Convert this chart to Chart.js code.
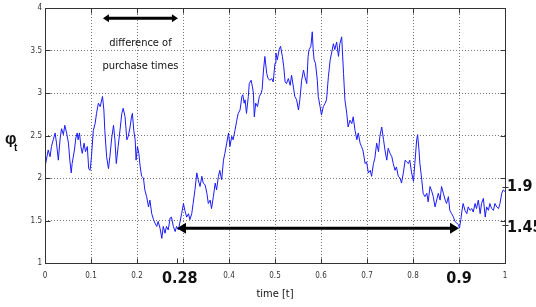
<!DOCTYPE html>
<html><head><meta charset="utf-8">
<script src="https://cdn.jsdelivr.net/npm/chart.js@4.4.0/dist/chart.umd.min.js"></script>
<style>html,body{margin:0;padding:0;background:#fff;overflow:hidden}</style>
</head><body>
<canvas id="c" width="536" height="307" style="display:block;width:536px;height:307px"></canvas>
<script>
// ---- data ----
const time = [
 0,0.007,0.011,0.014,0.018,0.022,0.025,0.029,0.033,0.036,0.040,0.043,0.047,0.051,0.054,0.057,0.059,0.064,0.067,0.070,
 0.072,0.075,0.078,0.081,0.085,0.088,0.092,0.095,0.098,0.101,0.105,0.109,0.112,0.116,0.120,0.125,0.128,0.130,0.134,0.138,
 0.141,0.145,0.149,0.152,0.155,0.159,0.163,0.167,0.170,0.174,
 0.178,0.181,0.185,0.188,0.190,0.193,0.196,0.198,0.201,0.204,0.207,0.210,0.214,0.217,0.221,0.225,0.228,0.232,0.236,0.239,
 0.243,0.246,0.250,0.254,0.257,0.261,0.264,0.268,0.272,0.275,0.279,0.283,0.286,0.290,0.293,0.297,0.301,0.304,0.308,0.312,
 0.315,0.319,0.322,0.326,0.330,0.333,0.337,0.341,0.344,
 0.348,0.352,0.355,0.359,0.362,0.366,0.370,0.373,0.377,0.380,0.384,0.388,0.391,0.395,0.399,0.402,0.406,0.409,0.413,0.417,
 0.420,0.424,0.428,0.430,0.433,0.435,0.438,0.442,0.444,0.448,0.451,0.453,0.455,0.458,0.462,0.466,0.470,0.472,0.475,0.478,
 0.482,0.485,0.489,0.493,0.496,0.500,0.502,0.505,0.509,0.512,0.516,0.519,
 0.522,0.525,0.529,0.533,0.536,0.540,0.543,0.547,0.551,0.554,0.558,0.562,0.565,0.569,0.572,0.574,0.578,0.581,0.583,0.585,
 0.588,0.592,0.594,0.598,0.601,0.605,0.609,0.612,0.616,0.620,0.623,0.627,0.630,0.634,0.638,0.641,0.645,0.649,0.652,0.656,
 0.659,0.663,0.667,0.670,0.674,0.678,0.681,0.685,0.688,0.691,
 0.696,0.699,0.703,0.707,0.710,0.714,0.717,0.721,0.725,0.728,0.732,0.736,0.739,0.743,0.746,0.750,0.754,0.757,0.761,0.764,
 0.768,0.772,0.775,0.779,0.783,0.786,0.790,0.793,0.797,0.801,0.804,0.808,0.810,0.813,0.815,0.819,0.822,0.826,0.830,0.833,
 0.837,0.841,0.844,0.848,
 0.855,0.859,0.862,0.866,0.870,0.873,0.877,0.880,0.884,0.888,0.891,0.895,0.899,0.901,0.904,0.906,0.909,0.913,0.917,0.920,
 0.924,0.928,0.931,0.935,0.938,0.942,0.946,0.949,0.953,0.957,0.960,0.964,0.967,0.971,0.975,0.978,0.982,0.986,0.989,0.993,
 0.996,1.000
];
const phi = [
 2.13,2.33,2.25,2.37,2.45,2.53,2.41,2.21,2.47,2.58,2.51,2.62,2.53,2.41,2.21,2.06,2.17,2.33,2.47,2.53,
 2.45,2.53,2.37,2.29,2.41,2.31,2.37,2.11,2.09,2.25,2.56,2.64,2.76,2.88,2.84,2.96,2.80,2.56,2.25,2.11,
 2.25,2.47,2.62,2.45,2.17,2.37,2.56,2.76,2.82,2.72,
 2.45,2.49,2.60,2.72,2.76,2.56,2.45,2.21,2.37,2.29,2.13,2.02,2.00,1.86,1.78,1.66,1.74,1.58,1.51,1.47,
 1.43,1.49,1.41,1.29,1.43,1.35,1.43,1.39,1.53,1.54,1.43,1.37,1.43,1.39,1.47,1.58,1.70,1.62,1.54,1.58,
 1.51,1.58,1.70,1.86,2.06,1.98,1.90,2.02,1.94,
 1.92,1.82,1.70,1.74,1.64,1.78,1.94,1.86,2.02,2.09,1.98,2.21,2.29,2.41,2.53,2.37,2.49,2.45,2.56,2.68,
 2.76,2.80,2.96,2.98,2.88,2.92,2.76,2.96,3.11,3.15,3.07,3.00,2.72,2.88,2.84,2.96,3.00,3.04,3.27,3.43,
 3.23,3.17,3.15,3.17,3.13,3.35,3.47,3.39,3.51,3.55,3.43,3.31,
 3.13,3.11,3.17,3.09,3.21,3.07,2.96,2.92,2.80,2.92,3.15,3.27,3.19,3.11,3.43,3.51,3.55,3.72,3.51,3.39,
 3.35,3.15,2.96,2.84,2.74,2.84,2.88,2.92,3.19,3.39,3.47,3.58,3.51,3.60,3.43,3.58,3.66,3.23,2.92,2.76,
 2.60,2.68,2.64,2.72,2.56,2.45,2.53,2.41,2.37,2.33,
 2.17,2.19,2.06,2.09,2.02,2.17,2.23,2.41,2.31,2.49,2.60,2.45,2.33,2.21,2.35,2.29,2.25,2.17,2.09,2.13,
 2.02,2.00,1.94,2.06,2.21,2.19,2.17,2.21,2.06,1.96,2.17,2.45,2.51,2.33,2.17,1.98,1.82,1.78,1.82,1.72,
 1.90,1.84,1.78,1.66,
 1.82,1.74,1.90,1.82,1.74,1.70,1.78,1.62,1.58,1.54,1.49,1.47,1.45,1.41,1.51,1.60,1.70,1.62,1.58,1.66,
 1.62,1.64,1.60,1.70,1.64,1.74,1.58,1.70,1.76,1.54,1.66,1.62,1.70,1.64,1.62,1.70,1.66,1.64,1.70,1.82,
 1.86,1.84
];
const xTicks = [0,0.1,0.2,0.3,0.4,0.5,0.6,0.7,0.8,0.9,1];
const xTickLabels = ['0','0.1','0.2','','0.4','0.5','0.6','0.7','0.8','','1'];
const yTicks = [1,1.5,2,2.5,3,3.5,4];
const yTickLabels = ['1','1.5','2','2.5','3','3.5','4'];
const markTimeLabels = ['0.28','0.9'];
const markLevelLabels = ['1.9','1.45'];
const markLevels = [1.9, 1.45];
const spanArrow = [0.287, 0.9, 1.41];     // from t, to t, level
const diffArrow = [0.126, 0.289, 3.88];   // from t, to t, level
const diffText = ['difference of', 'purchase times'];
const xTitle = 'time [t]';

// ---- drawing ----
const narrow = '"Liberation Sans Narrow", "Arial Narrow", "DejaVu Sans Condensed", "Liberation Sans", sans-serif';

function arrow(ctx, x1, x2, y, hl, hw, lw) {
  ctx.lineWidth = lw;
  ctx.beginPath(); ctx.moveTo(x1 + hl - 1, y); ctx.lineTo(x2 - hl + 1, y); ctx.stroke();
  ctx.beginPath(); ctx.moveTo(x1, y); ctx.lineTo(x1 + hl, y - hw / 2); ctx.lineTo(x1 + hl, y + hw / 2); ctx.closePath(); ctx.fill();
  ctx.beginPath(); ctx.moveTo(x2, y); ctx.lineTo(x2 - hl, y - hw / 2); ctx.lineTo(x2 - hl, y + hw / 2); ctx.closePath(); ctx.fill();
}

const overlay = {
  id: 'overlay',
  afterDraw(chart) {
    const { ctx, chartArea: a, scales: { x, y } } = chart;
    ctx.save();
    ctx.strokeStyle = '#333'; ctx.lineWidth = 1;
    const L = Math.round(a.left) + 0.5, R = Math.round(a.right) + 0.5, T = Math.round(a.top) + 0.5, B = Math.round(a.bottom) + 0.5;
    ctx.strokeRect(L, T, R - L, B - T);
    ctx.beginPath();
    xTicks.forEach(v => {
      const px = Math.round(x.getPixelForValue(v)) + 0.5;
      ctx.moveTo(px, B); ctx.lineTo(px, B - 5);
      ctx.moveTo(px, T); ctx.lineTo(px, T + 5);
    });
    yTicks.forEach(v => {
      const py = Math.round(y.getPixelForValue(v)) + 0.5;
      ctx.moveTo(L, py); ctx.lineTo(L + 5, py);
      ctx.moveTo(R, py); ctx.lineTo(R - 5, py);
    });
    const pxs = Math.round(x.getPixelForValue(spanArrow[0])) + 0.5;
    ctx.moveTo(pxs, B); ctx.lineTo(pxs, B - 5);
    markLevels.forEach(v => {
      const py = Math.round(y.getPixelForValue(v)) + 0.5;
      ctx.moveTo(R - 3, py); ctx.lineTo(R + 3, py);
    });
    ctx.stroke();

    // arrows
    ctx.strokeStyle = '#000'; ctx.fillStyle = '#000';
    arrow(ctx, x.getPixelForValue(diffArrow[0]), x.getPixelForValue(diffArrow[1]), y.getPixelForValue(diffArrow[2]), 6, 8, 3);
    arrow(ctx, x.getPixelForValue(spanArrow[0]), x.getPixelForValue(spanArrow[1]), y.getPixelForValue(spanArrow[2]), 9, 11, 3);

    // texts
    ctx.fillStyle = '#111';
    ctx.textAlign = 'center'; ctx.textBaseline = 'middle';
    ctx.font = '11px ' + narrow;
    const cx = (x.getPixelForValue(diffArrow[0]) + x.getPixelForValue(diffArrow[1])) / 2;
    ctx.fillText(diffText[0], cx, y.getPixelForValue(3.59));
    ctx.fillText(diffText[1], cx, y.getPixelForValue(3.32));
    ctx.fillText(xTitle, (a.left + a.right) / 2, a.bottom + 31);

    ctx.font = 'bold 16px ' + narrow;
    ctx.fillText(markTimeLabels[0], x.getPixelForValue(0.293), a.bottom + 16);
    ctx.fillText(markTimeLabels[1], x.getPixelForValue(0.9), a.bottom + 16);
    ctx.textAlign = 'left';
    ctx.fillText(markLevelLabels[0], a.right + 2, y.getPixelForValue(markLevels[0]));
    ctx.fillText(markLevelLabels[1], a.right + 2, y.getPixelForValue(markLevels[1]) + 3);

    // y title
    ctx.textBaseline = 'alphabetic';
    ctx.font = 'bold 16px "Liberation Sans", "DejaVu Sans", sans-serif';
    ctx.fillText('φ', 5, 144);
    ctx.font = 'bold 10px "Liberation Sans", "DejaVu Sans", sans-serif';
    ctx.fillText('t', 14, 151);
    ctx.restore();
  }
};

new Chart(document.getElementById('c'), {
  type: 'line',
  data: {
    datasets: [{
      data: time.map((t, i) => ({ x: t, y: phi[i] })),
      borderColor: '#1a1aff',
      borderWidth: 1,
      pointRadius: 0,
      fill: false,
      tension: 0
    }]
  },
  options: {
    responsive: false,
    animation: false,
    devicePixelRatio: 1,
    layout: { padding: { top: 8, right: 31, left: 0, bottom: 0 } },
    plugins: { legend: { display: false }, tooltip: { enabled: false } },
    scales: {
      x: {
        type: 'linear', min: 0, max: 1,
        afterBuildTicks: s => { s.ticks = xTicks.map(v => ({ value: v })); },
        afterFit: s => { s.height = 44; },
        ticks: {
          callback: v => xTickLabels[xTicks.findIndex(t => Math.abs(t - v) < 1e-9)],
          font: { size: 8, family: narrow }, color: '#333', padding: 8,
          maxRotation: 0, autoSkip: false
        },
        grid: { color: '#777', lineWidth: 1, drawTicks: false },
        border: { display: false, dash: [1, 2] }
      },
      y: {
        type: 'linear', min: 1, max: 4,
        afterBuildTicks: s => { s.ticks = yTicks.map(v => ({ value: v })); },
        afterFit: s => { s.width = 45; },
        ticks: {
          callback: v => yTickLabels[yTicks.findIndex(t => Math.abs(t - v) < 1e-9)],
          font: { size: 8, family: narrow }, color: '#333', padding: 3
        },
        grid: { color: '#777', lineWidth: 1, drawTicks: false },
        border: { display: false, dash: [1, 2] }
      }
    }
  },
  plugins: [overlay]
});
</script>
</body></html>
